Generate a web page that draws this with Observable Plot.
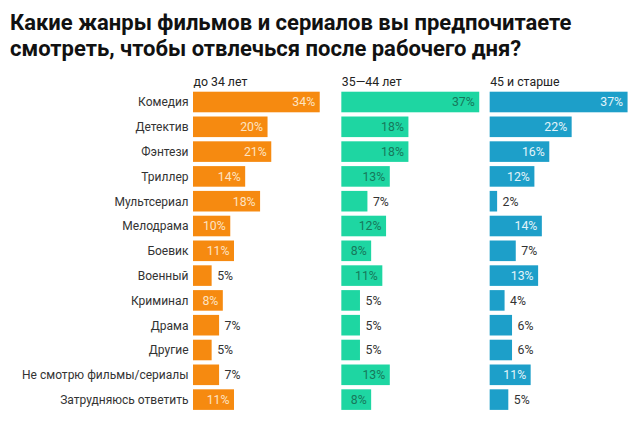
<!DOCTYPE html>
<html>
<head>
<meta charset="utf-8">
<script src="https://cdn.jsdelivr.net/npm/d3@7"></script>
<script src="https://cdn.jsdelivr.net/npm/@observablehq/plot@0.6"></script>
<style>
  body { margin: 0; background: #fff; font-family: Roboto, "Noto Sans", sans-serif; }
  #title { font-weight: 700; font-size: 22px; line-height: 26px; color: #111; padding: 10px 0 0 10px; height: 52px; }
  #chart svg { display: block; }
</style>
</head>
<body>
<div id="title">Какие жанры фильмов и сериалов вы предпочитаете<br>смотреть, чтобы отвлечься после рабочего дня?</div>
<div id="chart"></div>
<script>
const categories = ["Комедия", "Детектив", "Фэнтези", "Триллер", "Мультсериал", "Мелодрама", "Боевик", "Военный", "Криминал", "Драма", "Другие", "Не смотрю фильмы/сериалы", "Затрудняюсь ответить"];
const groups = ["до 34 лет", "35—44 лет", "45 и старше"];
const under34 = [34, 20, 21, 14, 18, 10, 11, 5, 8, 7, 5, 7, 11];
const age35to44 = [37, 18, 18, 13, 7, 12, 8, 11, 5, 5, 5, 13, 8];
const age45plus = [37, 22, 16, 12, 2, 14, 7, 13, 4, 6, 6, 11, 5];
const barColors = ["#f68a10", "#1ed6a2", "#1d9fc9"];
const insideText = ["#fde3c2", "#17785b", "#e3f4fa"];

const series = [under34, age35to44, age45plus];
const data = [];
groups.forEach((g, gi) => categories.forEach((c, ci) => data.push({group: g, cat: c, value: series[gi][ci]})));

const colorOf = g => barColors[groups.indexOf(g)];
const insideOf = g => insideText[groups.indexOf(g)];

const plot = Plot.plot({
  width: 640,
  height: 360,
  marginTop: 27.6,
  marginBottom: 10,
  marginLeft: 193,
  marginRight: 2,
  style: {fontFamily: "Roboto, 'Noto Sans', sans-serif", fontSize: "12px", color: "#333"},
  fx: {domain: groups, padding: 0, round: false, axis: null},
  x: {domain: [0, 39.8], axis: null},
  y: {domain: categories, paddingInner: 0.17, paddingOuter: 0.085, round: false, tickSize: 0, tickPadding: 5, label: null, fontSize: 12.3},
  marks: [
    Plot.barX(data, {fx: "group", y: "cat", x: "value", fill: d => colorOf(d.group)}),
    Plot.text(data.filter(d => d.value >= 8), {fx: "group", y: "cat", x: "value", text: d => d.value + "%", textAnchor: "end", dx: -5, fill: d => insideOf(d.group), fontSize: 12.3}),
    Plot.text(data.filter(d => d.value < 8), {fx: "group", y: "cat", x: "value", text: d => d.value + "%", textAnchor: "start", dx: 5, fill: "#333", fontSize: 12.3}),
    Plot.text(groups, {fx: d => d, frameAnchor: "top-left", text: d => d, textAnchor: "start", lineAnchor: "bottom", dy: -4, fill: "#222", fontSize: 12.3})
  ]
});
document.getElementById("chart").appendChild(plot);
</script>
</body>
</html>
